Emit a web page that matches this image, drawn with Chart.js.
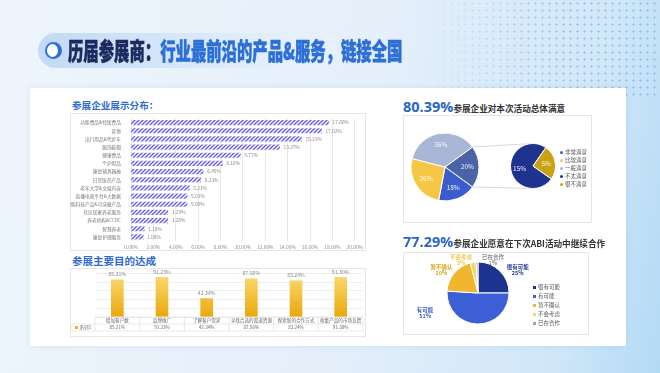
<!DOCTYPE html>
<html>
<head>
<meta charset="utf-8">
<script src="https://cdn.jsdelivr.net/npm/chart.js@4.4.1/dist/chart.umd.min.js"></script>
<style>
* { margin: 0; padding: 0; box-sizing: border-box; }
body {
	width: 660px; height: 373px; overflow: hidden; position: relative;
	font-family: "Noto Sans CJK SC", sans-serif;
	background: linear-gradient(100deg, #eef5fc 0%, #e4effa 55%, #d0e7f8 85%, #b3daf5 100%);
}
.abs { position: absolute; }
#dots {
	left: 420px; top: 0; width: 240px; height: 100px;
	background-image: radial-gradient(circle, rgba(110, 165, 220, 0.55) 0.9px, transparent 1.3px);
	background-size: 7px 7px;
	-webkit-mask-image: linear-gradient(90deg, transparent 0%, #000 60%);
	mask-image: linear-gradient(90deg, transparent 0%, #000 60%);
}
#pill {
	left: 38px; top: 33px; width: 260px; height: 35px; border-radius: 18px;
	background: linear-gradient(90deg, #c3d9f5 0%, #d6e7f9 55%, rgba(225, 238, 251, 0) 100%);
}
#icon {
	left: 45px; top: 42px; width: 17px; height: 17px; border-radius: 50%;
	background: #2c6fdc; overflow: hidden;
}
#icon::after {
	content: ""; position: absolute; left: 1.5px; top: 2px; width: 11px; height: 13px;
	border-radius: 50%; background: #fff;
}
#title {
	left: 68px; top: 34px; font-size: 24px; font-weight: 900; line-height: 32px;
	white-space: nowrap; transform: scaleX(0.64); transform-origin: 0 0;
	-webkit-text-stroke: 0.6px currentColor;
}
#title .a { color: #1c2b5e; }
#title .b { color: #2d6fd8; }
#card {
	left: 30px; top: 88px; width: 596px; height: 258px; background: #fff;
	box-shadow: 0 0 6px rgba(100, 150, 200, 0.15);
}
.box { border: 1px solid #e6e6e6; }
.h1 { color: #2f6bd0; font-weight: 700; white-space: nowrap; }
.big { font-family: "Open Sans", sans-serif; font-weight: 700; color: #2a66c4; font-size: 14.5px; }
.sub { font-weight: 700; color: #333; font-size: 8.6px; }
.legend { font-size: 5.5px; color: #555; line-height: 8px; }
.legend i { display: inline-block; width: 3px; height: 3px; margin-right: 2px; vertical-align: middle; }
</style>
</head>
<body>
<div id="dots" class="abs"></div>
<div id="pill" class="abs"></div>
<div id="icon" class="abs"></div>
<div id="title" class="abs"><span class="a">历届参展商：</span><span class="b">行业最前沿的产品&amp;服务，链接全国</span></div>
<div id="card" class="abs"></div>

<div class="abs h1" style="left:72px;top:99px;font-size:9.6px;line-height:12px;">参展企业展示分布：</div>
<div class="abs box" style="left:70px;top:113px;width:296px;height:138px;"></div>
<canvas id="c1" class="abs" width="296" height="138" style="left:70px;top:113px;"></canvas>

<div class="abs h1" style="left:72px;top:254px;font-size:10.5px;line-height:13px;">参展主要目的达成</div>
<div class="abs box" style="left:70px;top:268px;width:296px;height:69px;"></div>
<canvas id="c2" class="abs" width="296" height="69" style="left:70px;top:268px;"></canvas>

<div class="abs" style="left:403px;top:97px;line-height:17px;white-space:nowrap;"><span class="big">80.39%</span><span class="sub">参展企业对本次活动总体满意</span></div>
<div class="abs box" style="left:403px;top:115px;width:189px;height:108px;"></div>
<canvas id="c3" class="abs" width="189" height="108" style="left:403px;top:115px;"></canvas>
<canvas id="c4" class="abs" width="189" height="108" style="left:403px;top:115px;"></canvas>
<div id="leg1" class="abs legend" style="left:560px;top:148px;"></div>

<div class="abs" style="left:403px;top:232px;line-height:17px;white-space:nowrap;"><span class="big">77.29%</span><span class="sub">参展企业愿意在下次ABI活动中继续合作</span></div>
<div class="abs box" style="left:403px;top:252px;width:186px;height:83px;"></div>
<canvas id="c5" class="abs" width="186" height="83" style="left:403px;top:252px;"></canvas>
<div id="leg2" class="abs legend" style="left:533px;top:283px;line-height:9px;"></div>

<script>
// 参展企业展示分布
const showCats = [
	"功能食品&特医食品", "其他", "出行用品&代步车", "服饰鞋帽", "健康食品",
	"个护用品", "康复辅具器械", "日常医药产品", "老年大学&文娱内容",
	"直播电商平台&大数据", "智能科技产品&可穿戴产品", "社区居家养老服务",
	"养老机构&CCRC", "智慧养老", "康复护理服务",
];
const showVals = [17.66, 17.02, 15.23, 13.27, 9.77, 8.16, 6.45, 6.23, 5.21, 5.01, 5.00, 3.29, 3.28, 1.18, 1.08];
const showTicks = [0, 2, 4, 6, 8, 10, 12, 14, 16, 18, 20];

// 参展主要目的达成
const goalCats = ["增加客户数", "品牌推广", "了解客户需求", "寻找合适的渠道资源", "探索新的合作方式", "收集产品的市场反馈"];
const goalVals = [85.21, 91.23, 42.34, 87.56, 83.24, 91.30];

// 满意度
const satLabels = ["非常满意", "比较满意", "一般满意", "不太满意", "很不满意"];
const satVals = [18, 26, 36, 15, 5];

// 继续合作意愿
const coopLabels = ["很有可能", "有可能", "暂不确认", "不会考虑", "已在合作"];
const coopVals = [25, 51, 20, 3, 1];

const FONT = '"Noto Sans CJK SC"';
Chart.defaults.font.family = FONT;

// ---- chart 1: horizontal hatched bars
const ctx1 = document.getElementById("c1").getContext("2d");
const tile = document.createElement("canvas");
tile.width = tile.height = 4;
const tg = tile.getContext("2d");
tg.fillStyle = "#fff";
tg.fillRect(0, 0, 4, 4);
tg.strokeStyle = "#6b5fe2";
tg.lineWidth = 1.5;
tg.beginPath();
tg.moveTo(0, 4); tg.lineTo(4, 0);
tg.moveTo(-1, 1); tg.lineTo(1, -1);
tg.moveTo(3, 5); tg.lineTo(5, 3);
tg.stroke();
const hatch = ctx1.createPattern(tile, "repeat");

const barValues = {
	id: "barValues",
	afterDatasetsDraw(chart) {
		const { ctx } = chart;
		ctx.save();
		ctx.font = "4.8px " + FONT;
		ctx.fillStyle = "#888";
		ctx.textBaseline = "middle";
		chart.getDatasetMeta(0).data.forEach((b, i) => {
			ctx.fillText(showVals[i].toFixed(2) + "%", b.x + 4, b.y);
		});
		ctx.restore();
	},
};

new Chart(ctx1, {
	type: "bar",
	data: {
		labels: showCats,
		datasets: [{ data: showVals, backgroundColor: hatch, barThickness: 4.5 }],
	},
	options: {
		indexAxis: "y",
		responsive: false,
		animation: false,
		layout: { padding: { top: 5.5, right: 6, left: 0, bottom: 0 } },
		plugins: { legend: { display: false }, tooltip: { enabled: false } },
		scales: {
			x: {
				min: showTicks[0],
				max: showTicks[showTicks.length - 1],
				afterBuildTicks: s => { s.ticks = showTicks.map(v => ({ value: v })); },
				ticks: { callback: v => v.toFixed(2) + "%", font: { size: 4.8 }, color: "#888", padding: 3, maxRotation: 0 },
				grid: { color: "#e8e8e8", drawTicks: false },
				border: { display: false },
				afterFit: s => { s.height = 10; },
			},
			y: {
				ticks: { font: { size: 4.7 }, color: "#777", padding: 2, autoSkip: false },
				grid: { display: false },
				border: { display: false },
				afterFit: s => { s.width = 61; },
			},
		},
	},
	plugins: [barValues],
});

// ---- chart 2: gold columns with data table
const goalLabels = {
	id: "goalLabels",
	afterDatasetsDraw(chart) {
		const { ctx } = chart;
		ctx.save();
		ctx.font = "5.2px " + FONT;
		ctx.fillStyle = "#888";
		ctx.textAlign = "center";
		ctx.textBaseline = "middle";
		chart.getDatasetMeta(0).data.forEach((b, i) => {
			ctx.fillText(goalVals[i].toFixed(2) + "%", b.x, b.y - 5.5);
		});
		ctx.restore();
	},
};

const goalTable = {
	id: "goalTable",
	afterDraw(chart) {
		const { ctx, chartArea: a, scales: { x } } = chart;
		const n = goalCats.length;
		const cw = a.width / n;
		const t = a.bottom;
		const rh = 7;
		ctx.save();
		ctx.strokeStyle = "#dcdcdc";
		ctx.lineWidth = 0.6;
		ctx.beginPath();
		ctx.moveTo(a.left, t); ctx.lineTo(a.right, t);
		ctx.moveTo(2, t + rh); ctx.lineTo(a.right, t + rh);
		ctx.moveTo(2, t + 2 * rh); ctx.lineTo(a.right, t + 2 * rh);
		for (let i = 0; i <= n; i++) {
			const xx = a.left + i * cw;
			ctx.moveTo(xx, t); ctx.lineTo(xx, t + 2 * rh);
		}
		ctx.moveTo(2, t + rh); ctx.lineTo(2, t + 2 * rh);
		ctx.stroke();
		ctx.font = "4.6px " + FONT;
		ctx.fillStyle = "#666";
		ctx.textAlign = "center";
		ctx.textBaseline = "middle";
		goalCats.forEach((c, i) => {
			const cx = x.getPixelForValue(i);
			ctx.fillText(c, cx, t + rh / 2);
			ctx.fillText(goalVals[i].toFixed(2) + "%", cx, t + rh * 1.5);
		});
		ctx.fillStyle = "#efb521";
		ctx.fillRect(5, t + rh * 1.5 - 1.5, 3, 3);
		ctx.fillStyle = "#666";
		ctx.textAlign = "left";
		ctx.fillText("系列1", 9.5, t + rh * 1.5);
		ctx.restore();
	},
};

new Chart(document.getElementById("c2"), {
	type: "bar",
	data: {
		labels: goalCats,
		datasets: [{
			data: goalVals,
			barThickness: 12,
			backgroundColor: c => {
				const a = c.chart.chartArea;
				if (!a) return "#f2c037";
				const g = c.chart.ctx.createLinearGradient(0, a.top, 0, a.bottom);
				g.addColorStop(0, "#fbdc74");
				g.addColorStop(1, "#e9a80c");
				return g;
			},
		}],
	},
	options: {
		responsive: false,
		animation: false,
		layout: { padding: { top: 5.5, right: 3, left: 25, bottom: 20 } },
		plugins: { legend: { display: false }, tooltip: { enabled: false } },
		scales: {
			x: { display: false },
			y: {
				min: 0, max: 100,
				ticks: { display: false, stepSize: 20 },
				grid: { color: "#efefef", drawTicks: false },
				border: { display: false },
				afterFit: s => { s.width = 0; },
			},
		},
	},
	plugins: [goalLabels, goalTable],
});

// ---- chart 3/4: bar-of-pie style satisfaction
const ROYAL = "#3a5ccc", YELLOW = "#f6c744", GRAYBL = "#a8b5d5", SLATE = "#4a63a7", NAVY = "#1d338e", GOLD = "#c9a211";
const satColors = [ROYAL, YELLOW, GRAYBL, NAVY, GOLD];

const pctInside = factor => ({
	id: "pctInside",
	afterDatasetsDraw(chart) {
		const { ctx } = chart;
		const ds = chart.data.datasets[0].data;
		const total = satVals.reduce((s, v) => s + v, 0);
		ctx.save();
		ctx.font = "6.5px " + FONT;
		ctx.fillStyle = "rgba(255,255,255,0.92)";
		ctx.textAlign = "center";
		ctx.textBaseline = "middle";
		chart.getDatasetMeta(0).data.forEach((arc, i) => {
			const mid = (arc.startAngle + arc.endAngle) / 2;
			const r = arc.outerRadius * factor;
			ctx.fillText(Math.round(ds[i] / total * 100) + "%", arc.x + r * Math.cos(mid), arc.y + r * Math.sin(mid));
		});
		ctx.restore();
	},
});

const restSum = satVals[3] + satVals[4];
const mainPie = new Chart(document.getElementById("c3"), {
	type: "pie",
	data: {
		labels: ["其他", satLabels[0], satLabels[1], satLabels[2]],
		datasets: [{
			data: [restSum, satVals[0], satVals[1], satVals[2]],
			backgroundColor: [SLATE, ROYAL, YELLOW, GRAYBL],
			borderColor: "#fff",
			borderWidth: 1,
		}],
	},
	options: {
		responsive: false,
		animation: false,
		rotation: 54,
		layout: { padding: { left: 7.5, top: 17.5, right: 112.5, bottom: 21.5 } },
		plugins: { legend: { display: false }, tooltip: { enabled: false } },
	},
	plugins: [pctInside(0.66)],
});

const connectors = {
	id: "connectors",
	beforeDatasetsDraw(chart) {
		const big = mainPie.getDatasetMeta(0).data[0];
		const small = chart.getDatasetMeta(0).data[0];
		const { ctx } = chart;
		const p1 = [big.x + big.outerRadius * Math.cos(big.startAngle), big.y + big.outerRadius * Math.sin(big.startAngle)];
		const p2 = [big.x + big.outerRadius * Math.cos(big.endAngle), big.y + big.outerRadius * Math.sin(big.endAngle)];
		ctx.save();
		ctx.strokeStyle = "#cfcfcf";
		ctx.lineWidth = 0.8;
		ctx.beginPath();
		ctx.moveTo(p1[0], p1[1]); ctx.lineTo(small.x, small.y - small.outerRadius);
		ctx.moveTo(p2[0], p2[1]); ctx.lineTo(small.x, small.y + small.outerRadius);
		ctx.stroke();
		ctx.restore();
	},
};

new Chart(document.getElementById("c4"), {
	type: "pie",
	data: {
		labels: [satLabels[3], satLabels[4]],
		datasets: [{
			data: [satVals[3], satVals[4]],
			backgroundColor: [NAVY, GOLD],
			borderColor: "#fff",
			borderWidth: 1,
		}],
	},
	options: {
		responsive: false,
		animation: false,
		rotation: 125,
		layout: { padding: { left: 107, top: 28, right: 36, bottom: 34 } },
		plugins: { legend: { display: false }, tooltip: { enabled: false } },
	},
	plugins: [connectors, pctInside(0.6)],
});

document.getElementById("leg1").innerHTML = satLabels
	.map((l, i) => `<div><i style="background:${satColors[i]};border-radius:50%"></i>${l}</div>`).join("");

// ---- chart 5: cooperation pie with outside labels
const coopColors = ["#1c348f", "#3c5fd6", "#f0b62e", "#f7d66e", "#a0a4ae"];
const coopText = ["#1f3a93", "#3c5fd6", "#e0a820", "#efc94e", "#8a8a8a"];
const coopPlace = [[60, 1.48], [249, 1.83], [302, 1.39], [333, 1.2], [24, 1.18]];

const outsideLabels = {
	id: "outsideLabels",
	afterDatasetsDraw(chart) {
		const { ctx } = chart;
		const arc0 = chart.getDatasetMeta(0).data[0];
		ctx.save();
		ctx.font = "600 5.5px " + FONT;
		ctx.textAlign = "center";
		ctx.textBaseline = "middle";
		coopLabels.forEach((l, i) => {
			const [deg, f] = coopPlace[i];
			const a = deg * Math.PI / 180;
			const x = arc0.x + Math.sin(a) * arc0.outerRadius * f;
			const y = arc0.y - Math.cos(a) * arc0.outerRadius * f;
			ctx.fillStyle = coopText[i];
			ctx.fillText(l, x, y - 3);
			ctx.fillText(coopVals[i] + "%", x, y + 3);
		});
		ctx.restore();
	},
};

new Chart(document.getElementById("c5"), {
	type: "pie",
	data: {
		labels: coopLabels,
		datasets: [{
			data: coopVals,
			backgroundColor: coopColors,
			borderColor: "#fff",
			borderWidth: 1,
		}],
	},
	options: {
		responsive: false,
		animation: false,
		rotation: 0,
		layout: { padding: { left: 43.5, top: 9.5, right: 79.5, bottom: 10.5 } },
		plugins: { legend: { display: false }, tooltip: { enabled: false } },
	},
	plugins: [outsideLabels],
});

document.getElementById("leg2").innerHTML = coopLabels
	.map((l, i) => `<div><i style="background:${coopColors[i]}"></i>${l}</div>`).join("");
</script>
</body>
</html>
